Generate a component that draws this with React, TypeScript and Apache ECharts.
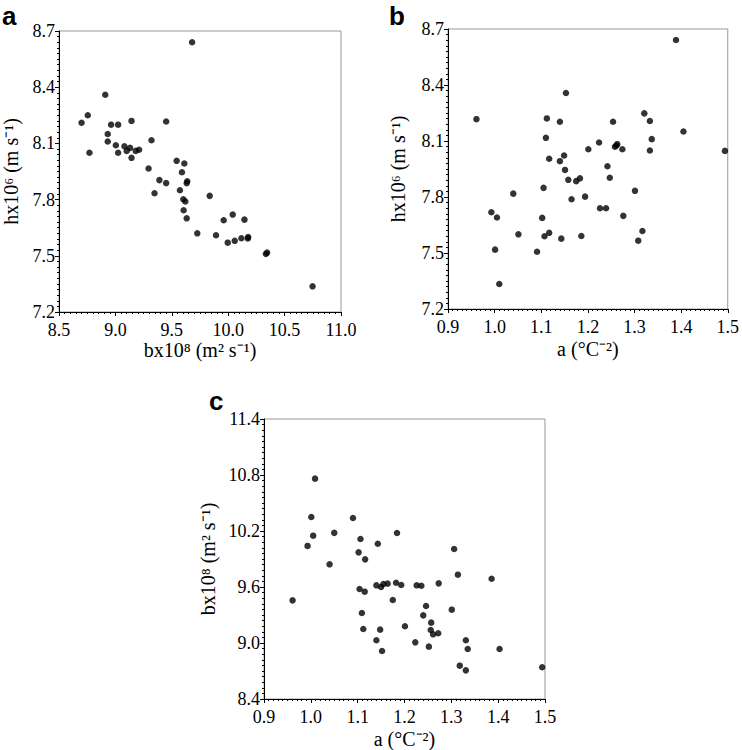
import React, { useEffect, useRef } from "react";
import * as echarts from "echarts";

// Panel a: h vs b
const aB = [9.68, 8.91, 8.755, 8.70, 8.77, 8.962, 9.024, 9.143, 8.932, 8.932, 9.004, 9.024, 9.08, 9.10, 9.13, 9.143, 9.18, 9.21, 9.32, 9.45, 9.294, 9.39, 9.45, 9.347, 9.543, 9.611, 9.59, 9.637, 9.632, 9.572, 9.602, 9.62, 9.605, 9.632, 9.726, 9.836, 9.892, 9.96, 10.04, 9.996, 10.058, 10.117, 10.144, 10.177, 10.174, 10.334, 10.345, 10.748];
const aH = [8.64, 8.36, 8.25, 8.21, 8.05, 8.20, 8.20, 8.22, 8.15, 8.11, 8.09, 8.05, 8.085, 8.06, 8.076, 8.023, 8.06, 8.066, 8.117, 8.217, 7.966, 7.904, 7.888, 7.834, 8.007, 7.993, 7.946, 7.898, 7.888, 7.85, 7.802, 7.79, 7.743, 7.70, 7.62, 7.82, 7.61, 7.69, 7.72, 7.57, 7.58, 7.594, 7.693, 7.60, 7.593, 7.51, 7.517, 7.337];

// Panel b: h vs a
const bA = [1.389, 1.153, 0.961, 1.112, 1.14, 1.110, 1.254, 1.321, 1.333, 1.405, 1.337, 1.494, 1.201, 1.224, 1.258, 1.263, 1.261, 1.274, 1.333, 1.149, 1.117, 1.14, 1.151, 1.242, 1.158, 1.175, 1.183, 1.247, 1.105, 1.040, 1.165, 1.194, 1.301, 1.226, 1.239, 0.993, 1.005, 1.102, 1.276, 1.051, 1.107, 1.117, 1.143, 1.186, 1.317, 1.308, 1.001, 1.091, 1.010];
const bH = [8.641, 8.357, 8.217, 8.221, 8.203, 8.117, 8.203, 8.248, 8.207, 8.151, 8.110, 8.047, 8.056, 8.092, 8.069, 8.083, 8.076, 8.056, 8.049, 8.022, 8.005, 7.992, 7.945, 7.965, 7.892, 7.885, 7.900, 7.903, 7.849, 7.818, 7.788, 7.802, 7.833, 7.740, 7.740, 7.718, 7.690, 7.688, 7.699, 7.600, 7.590, 7.608, 7.577, 7.591, 7.618, 7.566, 7.518, 7.507, 7.334];

// Panel c: b vs a
const cA = [1.009, 1.001, 1.005, 0.993, 1.050, 1.040, 0.961, 1.090, 1.106, 1.143, 1.102, 1.116, 1.184, 1.306, 1.314, 1.386, 1.104, 1.115, 1.140, 1.150, 1.155, 1.164, 1.182, 1.193, 1.175, 1.226, 1.236, 1.273, 1.109, 1.246, 1.240, 1.301, 1.112, 1.148, 1.201, 1.257, 1.256, 1.261, 1.272, 1.140, 1.152, 1.223, 1.252, 1.331, 1.335, 1.403, 1.318, 1.331, 1.494];
const cB = [10.761, 10.35, 10.15, 10.04, 10.18, 9.843, 9.457, 10.339, 10.114, 10.064, 9.971, 9.896, 10.179, 10.007, 9.732, 9.689, 9.579, 9.55, 9.618, 9.60, 9.632, 9.636, 9.646, 9.621, 9.461, 9.618, 9.614, 9.639, 9.321, 9.396, 9.296, 9.357, 9.15, 9.143, 9.179, 9.218, 9.139, 9.093, 9.104, 9.029, 8.914, 9.007, 8.961, 9.029, 8.936, 8.936, 8.757, 8.707, 8.74];

const xTitleB = "bx10⁸ (m² s⁻¹)";
const yTitleH = "hx10⁶ (m s⁻¹)";
const xTitleA = "a (°C⁻²)";
const yTitleB = "bx10⁸ (m² s⁻¹)";

const SERIF = "Liberation Serif";

function axis(gridIndex: number, min: number, max: number, interval: number, name: string, isY: boolean, gap: number) {
  return {
    type: "value",
    gridIndex,
    min,
    max,
    interval,
    name,
    nameLocation: "middle",
    nameGap: gap,
    nameTextStyle: { fontFamily: SERIF, fontSize: 20, color: "#000" },
    splitLine: { show: false },
    axisLine: { show: true, onZero: false, lineStyle: { color: "#000", width: 1 } },
    axisTick: { show: true, length: 4, lineStyle: { color: "#000" } },
    minorTick: { show: true, splitNumber: 10, length: 2, lineStyle: { color: "#000" } },
    axisLabel: {
      fontFamily: SERIF,
      fontSize: 18,
      color: "#000",
      margin: isY ? 4 : 9,
      formatter: (v: number) => v.toFixed(1),
    },
  };
}

const zip = (xs: number[], ys: number[]) => xs.map((x, i) => [x, ys[i]]);

export default function App() {
  const ref = useRef<HTMLDivElement>(null);
  useEffect(() => {
    if (!ref.current) return;
    const chart = echarts.init(ref.current, undefined, { renderer: "svg" });
    const gridStyle = { show: true, borderColor: "#999", borderWidth: 1, backgroundColor: "transparent" };
    chart.setOption({
      animation: false,
      backgroundColor: "#fff",
      grid: [
        { left: 59, top: 31, width: 282, height: 281, ...gridStyle },
        { left: 448, top: 29, width: 281, height: 280, ...gridStyle },
        { left: 264, top: 419, width: 281, height: 280, ...gridStyle },
      ],
      xAxis: [
        axis(0, 8.5, 11.0, 0.5, xTitleB, false, 28),
        axis(1, 0.9, 1.5, 0.1, xTitleA, false, 30),
        axis(2, 0.9, 1.5, 0.1, xTitleA, false, 30),
      ],
      yAxis: [
        axis(0, 7.2, 8.7, 0.3, yTitleH, true, 38),
        axis(1, 7.2, 8.7, 0.3, yTitleH, true, 40),
        axis(2, 8.4, 11.4, 0.6, yTitleB, true, 46),
      ],
      series: [
        { type: "scatter", xAxisIndex: 0, yAxisIndex: 0, data: zip(aB, aH), symbolSize: 6.5, itemStyle: { color: "#000" } },
        { type: "scatter", xAxisIndex: 1, yAxisIndex: 1, data: zip(bA, bH), symbolSize: 6.5, itemStyle: { color: "#000" } },
        { type: "scatter", xAxisIndex: 2, yAxisIndex: 2, data: zip(cA, cB), symbolSize: 6.5, itemStyle: { color: "#000" } },
      ],
      graphic: [
        { type: "text", left: 2, top: 3, style: { text: "a", fontFamily: "Liberation Sans", fontWeight: "bold", fontSize: 26, fill: "#000" } },
        { type: "text", left: 389, top: 3, style: { text: "b", fontFamily: "Liberation Sans", fontWeight: "bold", fontSize: 26, fill: "#000" } },
        { type: "text", left: 209, top: 388, style: { text: "c", fontFamily: "Liberation Sans", fontWeight: "bold", fontSize: 26, fill: "#000" } },
      ],
    });
    return () => chart.dispose();
  }, []);
  return <div ref={ref} style={{ position: "fixed", left: 0, top: 0, width: 742, height: 750 }} />;
}
